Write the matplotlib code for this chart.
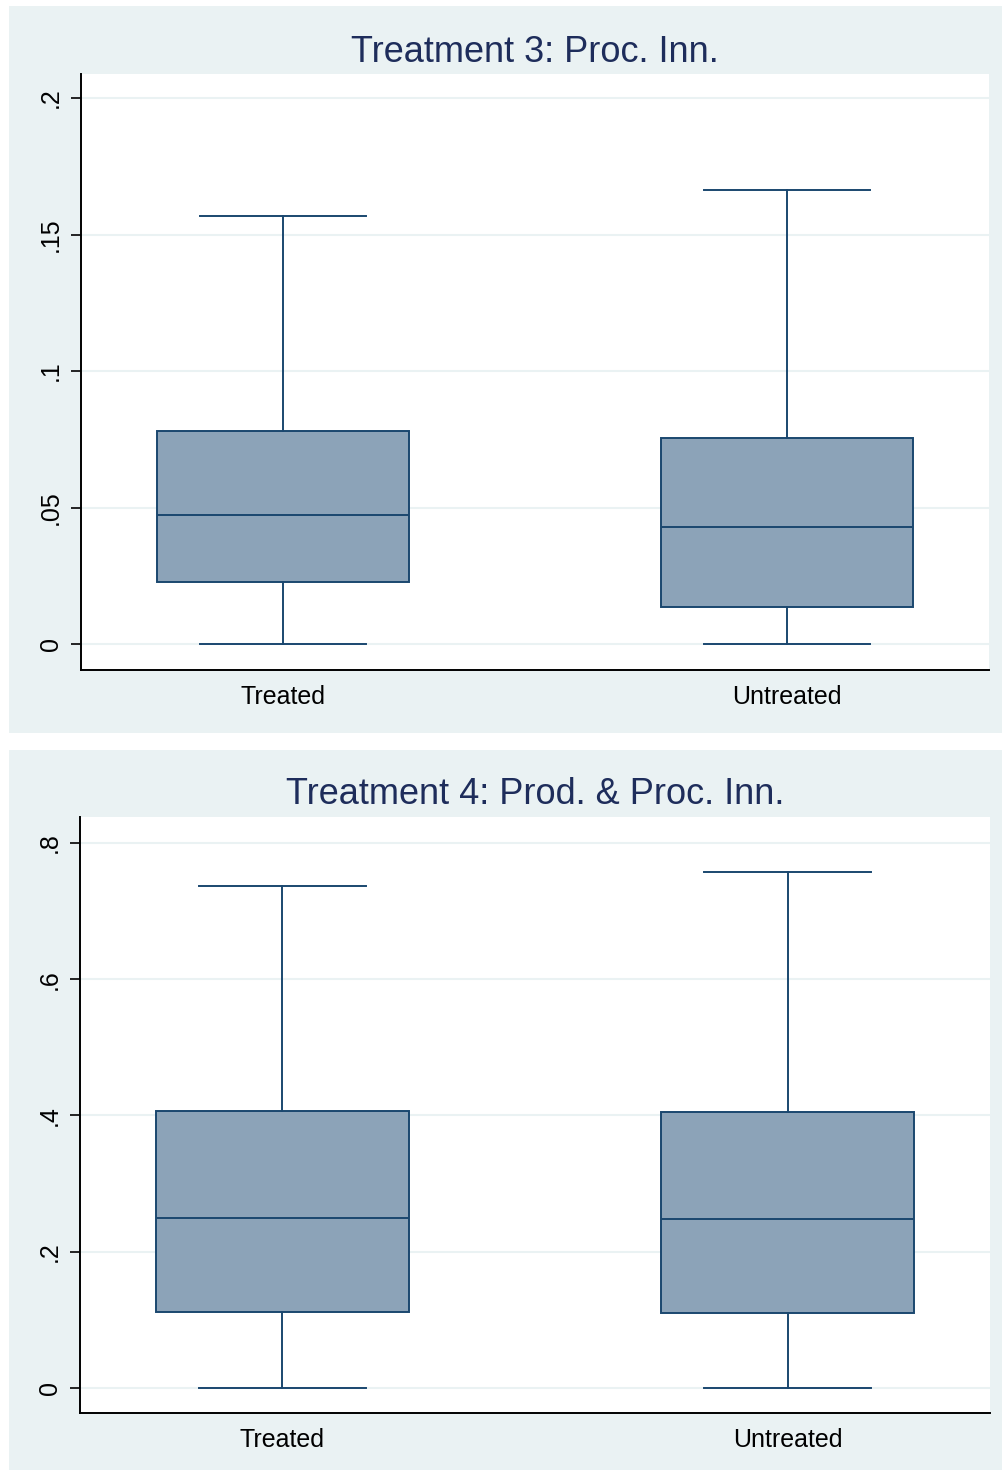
import matplotlib
matplotlib.use("Agg")
import matplotlib.pyplot as plt
from matplotlib.patches import Rectangle

plt.rcParams['font.family'] = ['Liberation Sans', 'DejaVu Sans']

groups = ["Treated", "Untreated"]

# Panel 1: Treatment 3
t3_title = "Treatment 3: Proc. Inn."
t3_whislo = [0.0, 0.0]
t3_q1 = [0.0227, 0.0136]
t3_med = [0.0473, 0.0429]
t3_q3 = [0.0780, 0.0755]
t3_whishi = [0.1568, 0.1663]
t3_yticks = [0, 0.05, 0.1, 0.15, 0.2]
t3_yticklabels = ["0", ".05", ".1", ".15", ".2"]

# Panel 2: Treatment 4
t4_title = "Treatment 4: Prod. & Proc. Inn."
t4_whislo = [0.0, 0.0]
t4_q1 = [0.1116, 0.1101]
t4_med = [0.2495, 0.2481]
t4_q3 = [0.4066, 0.4051]
t4_whishi = [0.7369, 0.7574]
t4_yticks = [0, 0.2, 0.4, 0.6, 0.8]
t4_yticklabels = ["0", ".2", ".4", ".6", ".8"]

W, H = 1003, 1470
fig = plt.figure(figsize=(W / 100, H / 100), dpi=100)
fig.patch.set_facecolor("white")

BG = "#EAF2F3"
EDGE = "#1A476F"
FILL = "#8CA3B8"
TITLE_C = "#1E2D5B"


def fr(x0, y0, x1, y1):
    return [x0 / W, 1 - y1 / H, (x1 - x0) / W, (y1 - y0) / H]


def panel(bg_box, ax_box, title, whislo, q1, med, q3, whishi, yticks, yticklabels, ylim):
    x0, y0, x1, y1 = bg_box
    fig.patches.append(Rectangle((x0 / W, 1 - y1 / H), (x1 - x0) / W, (y1 - y0) / H,
                                 transform=fig.transFigure, facecolor=BG,
                                 edgecolor="none", zorder=-10))
    ax = fig.add_axes(fr(*ax_box))
    ax.set_zorder(1)
    ax.set_facecolor("white")
    stats = []
    for i, g in enumerate(groups):
        stats.append(dict(label=g, whislo=whislo[i], q1=q1[i], med=med[i],
                          q3=q3[i], whishi=whishi[i], fliers=[]))
    lw = 1.4
    ax.bxp(stats, positions=[0, 1], widths=0.5, capwidths=0.33, patch_artist=True,
           showfliers=False,
           boxprops=dict(facecolor=FILL, edgecolor=EDGE, linewidth=lw),
           medianprops=dict(color=EDGE, linewidth=lw),
           whiskerprops=dict(color=EDGE, linewidth=lw),
           capprops=dict(color=EDGE, linewidth=lw))
    ax.set_xlim(-0.4, 1.4)
    ax.set_ylim(*ylim)
    ax.set_yticks(yticks)
    ax.set_yticklabels(yticklabels, rotation=90, va="center")
    ax.set_xticks([0, 1])
    ax.set_xticklabels(groups)
    ax.yaxis.grid(True, color=BG, linewidth=1.5, zorder=0)
    ax.set_axisbelow(True)
    for s in ["top", "right"]:
        ax.spines[s].set_visible(False)
    for s in ["left", "bottom"]:
        ax.spines[s].set_linewidth(1.4)
        ax.spines[s].set_color("black")
    ax.tick_params(axis="y", length=7, width=1.2, pad=6, labelsize=18, colors="black")
    ax.tick_params(axis="x", length=0, pad=11, labelsize=18, colors="black")
    ax.set_title(title, fontsize=26, color=TITLE_C, pad=9)
    return ax


panel((9, 6, 1004, 733), (81, 74, 989, 670), t3_title,
      t3_whislo, t3_q1, t3_med, t3_q3, t3_whishi, t3_yticks, t3_yticklabels,
      (-0.0095, 0.2088))
panel((9, 750, 1004, 1471), (80, 817, 990, 1413), t4_title,
      t4_whislo, t4_q1, t4_med, t4_q3, t4_whishi, t4_yticks, t4_yticklabels,
      (-0.0367, 0.838))

fig.savefig("out.png", dpi=100)
